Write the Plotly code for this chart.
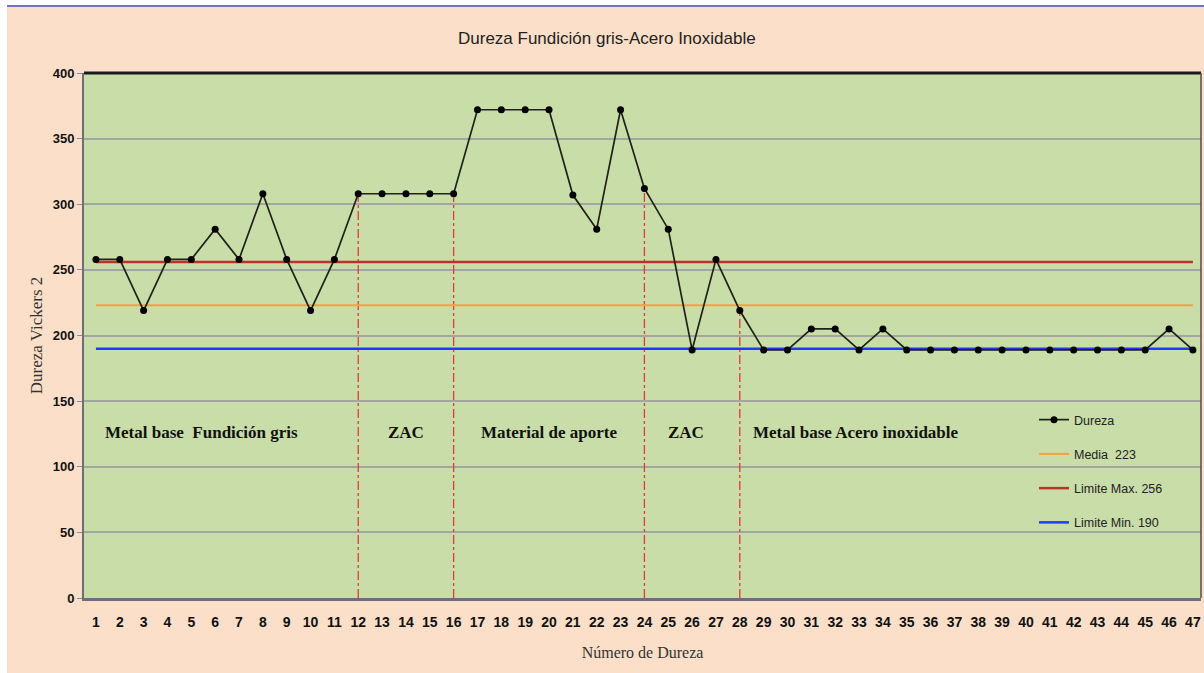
import plotly.graph_objects as go

# ---- data ----
numero = list(range(1, 48))
dureza = [258, 258, 219, 258, 258, 281, 258, 308, 258, 219,
          258, 308, 308, 308, 308, 308, 372, 372, 372, 372,
          307, 281, 372, 312, 281, 189, 258, 219, 189, 189,
          205, 205, 189, 205, 189, 189, 189, 189, 189, 189,
          189, 189, 189, 189, 189, 205, 189]
media = 223
lim_max = 256
lim_min = 190
zone_bounds = [12, 16, 24, 28]
zone_labels = ["Metal base  Fundición gris", "ZAC", "Material de aporte", "ZAC",
               "Metal base Acero inoxidable"]
zone_label_x = [1.3, 14.0, 20.0, 25.75, 32.87]
zone_label_anchor = ["left", "center", "center", "center", "center"]
zone_label_y = 126
y_ticks = [0, 50, 100, 150, 200, 250, 300, 350, 400]

PEACH = "#FCDFC8"
GREEN = "#C9DDA8"
NARROW = "Liberation Sans Narrow, Arial Narrow, Liberation Sans, sans-serif"
SERIF = "Liberation Serif, Times New Roman, serif"

fig = go.Figure()

# zone boundary lines (dash-dot red) from 0 up to the data value
for i, b in enumerate(zone_bounds):
    fig.add_trace(go.Scatter(
        x=[b, b], y=[0, dureza[numero.index(b)]], mode="lines",
        line=dict(color="#E8383A", width=1.3, dash="dashdot"),
        showlegend=False, hoverinfo="skip"))

fig.add_trace(go.Scatter(
    x=numero, y=[media] * len(numero), mode="lines", name="Media  223",
    line=dict(color="#F5A040", width=2), legendgroup="b", legendrank=2))
fig.add_trace(go.Scatter(
    x=numero, y=[lim_max] * len(numero), mode="lines", name="Limite Max. 256",
    line=dict(color="#C0302A", width=2.5), legendgroup="c", legendrank=3))
fig.add_trace(go.Scatter(
    x=numero, y=[lim_min] * len(numero), mode="lines", name="Limite Min. 190",
    line=dict(color="#1E3CF0", width=2.5), legendgroup="d", legendrank=4))
fig.add_trace(go.Scatter(
    x=numero, y=dureza, mode="lines+markers", name="Dureza",
    line=dict(color="#1E2218", width=1.7),
    marker=dict(color="#000000", size=7), legendgroup="a", legendrank=1))

for txt, xx, anc in zip(zone_labels, zone_label_x, zone_label_anchor):
    fig.add_annotation(x=xx, y=zone_label_y, text="<b>%s</b>" % txt, showarrow=False,
                       xanchor=anc, yanchor="middle",
                       font=dict(family=SERIF, size=17, color="#111111"))

# page frame: white strips and blue line at top
W, H = 1204, 673
L, T, B = 84, 73, 598
PW, PH = 1117, 525
def px(xp):
    return (xp - L) / PW
def py(yp):
    return (B - yp) / PH
fig.add_shape(type="rect", xref="paper", yref="paper", x0=px(0), x1=px(7), y0=py(H), y1=py(0),
              fillcolor="white", line_width=0, layer="below")
fig.add_shape(type="rect", xref="paper", yref="paper", x0=px(0), x1=px(W), y0=py(5), y1=py(0),
              fillcolor="white", line_width=0, layer="below")
fig.add_shape(type="line", xref="paper", yref="paper", x0=px(7), x1=px(W), y0=py(6), y1=py(6),
              line=dict(color="#7070C8", width=2))
# top border of plot
fig.add_shape(type="line", xref="paper", yref="paper", x0=0, x1=1, y0=1, y1=1,
              line=dict(color="#1A1A1A", width=3))
fig.add_shape(type="line", xref="paper", yref="paper", x0=1, x1=1, y0=0, y1=1,
              line=dict(color="#505050", width=1.5))

fig.update_layout(
    width=W, height=H,
    margin=dict(l=L, r=W - L - PW, t=T, b=H - B),
    paper_bgcolor=PEACH, plot_bgcolor=GREEN,
    title=dict(text="Dureza Fundición gris-Acero Inoxidable", x=0.504, xanchor="center",
               y=1 - 38 / H, yanchor="middle",
               font=dict(family=NARROW, size=17, color="#222222")),
    showlegend=True,
    legend=dict(x=px(1034), y=py(405), xanchor="left", yanchor="top",
                bgcolor="rgba(0,0,0,0)", tracegroupgap=15, itemwidth=30,
                traceorder="grouped",
                font=dict(family=NARROW, size=12.5, color="#222222")),
    xaxis=dict(range=[0.5, 47.34], tickmode="array", tickvals=numero,
               ticktext=["<b>%d</b>" % n for n in numero], showgrid=False, zeroline=False,
               showline=True, linecolor="#6E6E78", linewidth=2.5,
               ticklabelstandoff=9,
               tickfont=dict(family=NARROW, size=14, color="#111111"),
               title=dict(text="Número de Dureza", standoff=19,
                          font=dict(family=SERIF, size=16, color="#333333"))),
    yaxis=dict(range=[0, 400], tickmode="array", tickvals=y_ticks,
               ticktext=["<b>%d</b>" % v for v in y_ticks],
               showgrid=True, gridcolor="#A2A6A0", gridwidth=2, zeroline=False,
               showline=True, linecolor="#6E6E78", linewidth=2,
               ticks="outside", ticklen=5, tickcolor="#8A8A90",
               tickfont=dict(family=NARROW, size=13, color="#111111"),
               title=dict(text="Dureza Vickers 2", standoff=6,
                          font=dict(family=SERIF, size=17, color="#333333"))),
)

fig.write_html("out.html", config={"displayModeBar": False},
               post_script="document.body.style.margin='0';")
